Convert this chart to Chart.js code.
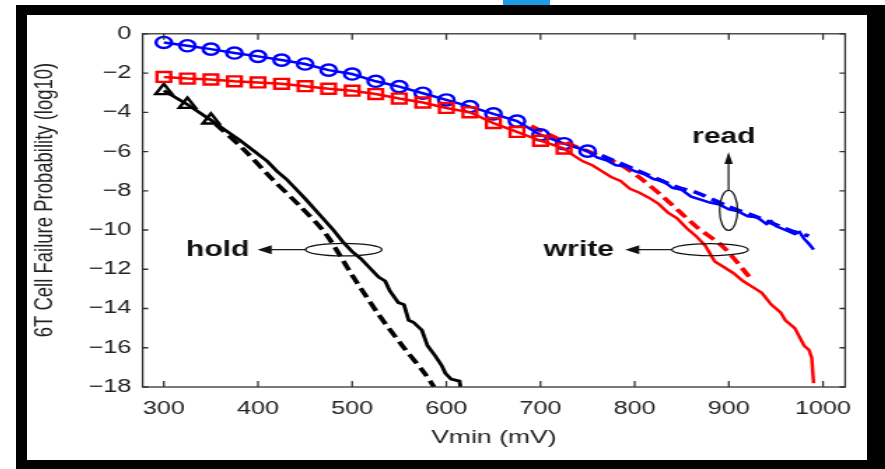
<!DOCTYPE html>
<html>
<head>
<meta charset="utf-8">
<script src="https://cdn.jsdelivr.net/npm/chart.js@4/dist/chart.umd.min.js"></script>
<style>
  html, body { margin: 0; padding: 0; background: #fff; }
  body { width: 885px; height: 469px; position: relative; overflow: hidden; }
  #tab { position: absolute; left: 503px; top: 0; width: 47px; height: 5px; background: #1e9be6; }
  #frame { position: absolute; left: 16px; top: 5px; width: 869px; height: 464px; background: #000; }
  #inner { position: absolute; left: 27px; top: 15px; width: 840px; height: 445px; background: #fff; }
  #chart { position: absolute; left: 27px; top: 15px; transform: scaleX(1.4); transform-origin: 0 0; }
</style>
</head>
<body>
<div id="tab"></div>
<div id="frame"></div>
<div id="inner"></div>
<canvas id="chart" width="600" height="445"></canvas>
<script>
// ---- data (x in mV, y in log10 probability) ----

const xTicks = [300, 400, 500, 600, 700, 800, 900, 1000];
const yTicks = [0, -2, -4, -6, -8, -10, -12, -14, -16, -18];

// read: simulation (circles on first points) and model (dashed)
const readSimX = [300, 325, 350, 375, 400, 425, 450, 475, 500, 525, 550, 575, 600, 625, 650, 675, 700, 725, 750,
  760, 770, 780, 790, 800, 810, 820, 830, 840, 850, 860, 870, 880, 890, 900, 910, 920, 930, 940, 945, 950, 960, 970, 975, 980, 985, 990];
const readSimY = [-0.44, -0.61, -0.78, -0.98, -1.15, -1.34, -1.54, -1.85, -2.05, -2.42, -2.69, -3.03, -3.37, -3.71, -4.08, -4.45, -5.15, -5.6, -5.98,
  -6.3, -6.45, -6.7, -6.75, -7.0, -7.15, -7.4, -7.5, -7.85, -7.95, -8.3, -8.45, -8.6, -8.7, -8.95, -9.05, -9.3, -9.35, -9.7, -9.55, -9.8, -10.0, -10.2, -10.1, -10.45, -10.7, -11.0];
const readMarkers = 19;
const readModelX = [765, 803, 845, 866, 901, 930, 964, 985];
const readModelY = [-6.2, -6.97, -7.81, -8.1, -8.83, -9.34, -10.0, -10.3];

// write
const writeSimX = [300, 325, 350, 375, 400, 425, 450, 475, 500, 525, 550, 575, 600, 625, 650, 675, 700, 725,
  735, 745, 755, 765, 775, 785, 795, 805, 815, 825, 835, 845, 855, 865, 875, 885, 895, 905, 915, 925, 935, 945, 955, 960, 970, 980, 985, 988, 990];
const writeSimY = [-2.2, -2.28, -2.33, -2.42, -2.48, -2.55, -2.67, -2.8, -2.9, -3.07, -3.3, -3.5, -3.78, -4.0, -4.55, -5.0, -5.45, -5.85,
  -6.2, -6.5, -6.7, -7.0, -7.3, -7.5, -7.9, -8.1, -8.35, -8.65, -9.1, -9.4, -9.9, -10.3, -10.8, -11.6, -11.9, -12.2, -12.6, -12.9, -13.2, -13.8, -14.2, -14.6, -15.0, -15.9, -16.1, -16.5, -17.8];
const writeMarkers = 18;
const writeModelX = [690, 730, 782, 803, 830, 866, 894, 922];
const writeModelY = [-4.7, -5.6, -6.6, -7.25, -8.3, -9.85, -10.86, -12.4];

// hold
const holdSimX = [300, 325, 350, 365, 380, 395, 410, 420, 430, 440, 450, 465, 480, 490, 500, 510, 518, 528, 535, 540, 549, 555, 560, 565, 574, 580, 588, 595, 599, 605, 614, 615];
const holdSimY = [-2.9, -3.6, -4.4, -4.9, -5.4, -5.95, -6.5, -7.0, -7.4, -7.9, -8.4, -9.2, -10.0, -10.6, -11.1, -11.5, -11.9, -12.4, -12.6, -13.1, -13.7, -13.8, -14.6, -14.7, -15.1, -15.9, -16.4, -16.9, -17.3, -17.6, -17.7, -18.0];
const holdMarkers = 3;
const holdModelX = [355, 385, 415, 445, 472, 500, 528, 555, 577, 587];
const holdModelY = [-4.6, -5.9, -7.4, -8.8, -10.2, -12.3, -14.3, -16.0, -17.3, -18.0];


// ============================
// helpers
// ============================

function pts(xs, ys) {
  return xs.map((v, i) => ({ x: v, y: ys[i] }));
}

function minusLabel(v) {
  return v < 0 ? "\u2212" + Math.abs(v) : String(v);
}

const FONT = "'Liberation Sans', Arial, Helvetica, sans-serif";
const AXIS = "#333";
const TEXT = "#222";


// ============================
// box, inward ticks, y title, annotations
// ============================

const decorations = {
  id: "decorations",
  afterDatasetsDraw(chart) {
    const { ctx, chartArea: a, scales: { x, y } } = chart;
    ctx.save();

    // axes box
    ctx.strokeStyle = AXIS;
    ctx.lineWidth = 1.3;
    ctx.strokeRect(a.left, a.top, a.right - a.left, a.bottom - a.top);

    // inward tick marks on all four sides
    ctx.beginPath();
    xTicks.forEach(v => {
      const px = x.getPixelForValue(v);
      ctx.moveTo(px, a.bottom); ctx.lineTo(px, a.bottom - 6);
      ctx.moveTo(px, a.top); ctx.lineTo(px, a.top + 6);
    });
    yTicks.forEach(v => {
      const py = y.getPixelForValue(v);
      ctx.moveTo(a.left, py); ctx.lineTo(a.left + 4, py);
      ctx.moveTo(a.right, py); ctx.lineTo(a.right - 4, py);
    });
    ctx.stroke();

    // y axis title
    ctx.save();
    ctx.translate(12.9, 185);
    ctx.rotate(-Math.PI / 2);
    ctx.fillStyle = TEXT;
    ctx.font = "18.5px " + FONT;
    ctx.textAlign = "center";
    ctx.textBaseline = "middle";
    ctx.fillText("6T Cell Failure Probability (log10)", 0, 0);
    ctx.restore();

    // annotations
    ctx.strokeStyle = "#111";
    ctx.fillStyle = "#111";
    ctx.lineWidth = 1.2;
    ctx.font = "bold 21.5px " + FONT;
    ctx.textBaseline = "middle";

    function ellipse(cx, cy, dx, dy) {
      const px = x.getPixelForValue(cx), py = y.getPixelForValue(cy);
      const rx = x.getPixelForValue(cx + dx) - px;
      const ry = y.getPixelForValue(cy - dy) - py;
      ctx.beginPath();
      ctx.ellipse(px, py, rx, ry, 0, 0, Math.PI * 2);
      ctx.stroke();
    }

    function leftArrow(x0, x1, yv) {
      const p0 = x.getPixelForValue(x0), p1 = x.getPixelForValue(x1), py = y.getPixelForValue(yv);
      ctx.beginPath();
      ctx.moveTo(p1, py); ctx.lineTo(p0 + 9, py);
      ctx.stroke();
      ctx.beginPath();
      ctx.moveTo(p0, py); ctx.lineTo(p0 + 10, py - 4.5); ctx.lineTo(p0 + 10, py + 4.5);
      ctx.closePath();
      ctx.fill();
    }

    // hold
    ellipse(491, -11.0, 40.5, 0.32);
    leftArrow(399.6, 450.5, -11.0);
    ctx.textAlign = "right";
    ctx.fillText("hold", x.getPixelForValue(391), y.getPixelForValue(-11.0));

    // write
    ellipse(880, -11.0, 40.5, 0.31);
    leftArrow(790, 839.5, -11.0);
    ctx.fillText("write", x.getPixelForValue(778), y.getPixelForValue(-11.0));

    // read
    ellipse(899.7, -9.0, 9.5, 1.02);
    const rx = x.getPixelForValue(899.7);
    const rTop = y.getPixelForValue(-7.98), rTip = y.getPixelForValue(-6.03);
    ctx.beginPath();
    ctx.moveTo(rx, rTop); ctx.lineTo(rx, rTip + 10);
    ctx.stroke();
    ctx.beginPath();
    ctx.moveTo(rx, rTip); ctx.lineTo(rx - 3, rTip + 12); ctx.lineTo(rx + 3, rTip + 12);
    ctx.closePath();
    ctx.fill();
    ctx.textAlign = "center";
    ctx.fillText("read", x.getPixelForValue(894.7), y.getPixelForValue(-5.24));

    ctx.restore();
  }
};


// ============================
// chart
// ============================

function simLine(xs, ys, color, marks, style, r, width) {
  return {
    data: pts(xs, ys),
    borderColor: color,
    borderWidth: width,
    backgroundColor: "transparent",
    pointStyle: style,
    pointRadius: c => (c.dataIndex < marks ? r : 0),
    pointBorderColor: color,
    pointBorderWidth: 2.4,
    pointBackgroundColor: "transparent",
    tension: 0
  };
}

function modelLine(xs, ys, color) {
  return {
    data: pts(xs, ys),
    borderColor: color,
    borderWidth: 3.6,
    borderDash: [10, 5],
    pointRadius: 0,
    tension: 0.3
  };
}

new Chart(document.getElementById("chart"), {
  type: "line",
  data: {
    datasets: [
      simLine(writeSimX, writeSimY, "#ff0000", writeMarkers, "rect", 7, 2.5),
      simLine(readSimX, readSimY, "#0000ff", readMarkers, "circle", 5.6, 2.5),
      simLine(holdSimX, holdSimY, "#000000", holdMarkers, "triangle", 6.8, 2.8),
      modelLine(readModelX, readModelY, "#0000ff"),
      modelLine(writeModelX, writeModelY, "#ff0000"),
      modelLine(holdModelX, holdModelY, "#000000")
    ]
  },
  options: {
    responsive: false,
    animation: false,
    events: [],
    layout: { padding: { top: 18, right: 12.9, left: 0, bottom: 0 } },
    plugins: { legend: { display: false }, tooltip: { enabled: false } },
    scales: {
      x: {
        type: "linear",
        min: 277.5,
        max: 1023.5,
        afterBuildTicks: s => { s.ticks = xTicks.map(v => ({ value: v })); },
        afterFit: s => { s.height = 73; },
        grid: { display: false, drawTicks: false },
        border: { display: false },
        ticks: { padding: 11, color: TEXT, font: { family: FONT, size: 18 }, maxRotation: 0, autoSkip: false, callback: v => String(v) },
        title: { display: true, text: "Vmin (mV)", color: TEXT, font: { family: FONT, size: 19 }, padding: { top: 0, bottom: 10.6 } }
      },
      y: {
        type: "linear",
        min: -18,
        max: 0,
        afterBuildTicks: s => { s.ticks = yTicks.map(v => ({ value: v })); },
        afterFit: s => { s.width = 82.6; },
        grid: { display: false, drawTicks: false },
        border: { display: false },
        ticks: { padding: 8, color: TEXT, font: { family: FONT, size: 18 }, callback: v => minusLabel(v), autoSkip: false }
      }
    }
  },
  plugins: [decorations]
});
</script>
</body>
</html>
